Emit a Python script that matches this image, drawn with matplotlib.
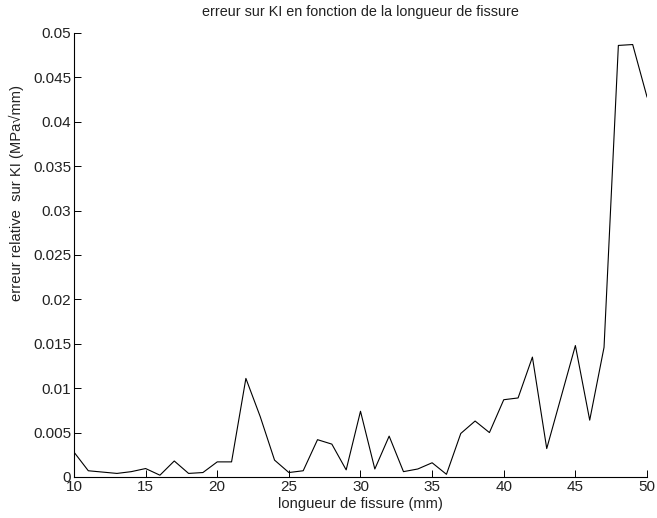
import matplotlib
matplotlib.use("Agg")
import matplotlib.pyplot as plt
import numpy as np

plt.rcParams['font.family'] = ['Liberation Sans', 'DejaVu Sans']

# longueur de fissure (mm) et erreur relative sur KI
a = np.arange(10, 51)
err = [0.0028, 0.0007, 0.00055, 0.0004, 0.0006, 0.00095, 0.0002, 0.0018, 0.0004, 0.0005,
       0.0017, 0.0017, 0.0111, 0.0068, 0.0019, 0.0005, 0.0007, 0.0042, 0.0037, 0.0008,
       0.0074, 0.0009, 0.0046, 0.0006, 0.0009, 0.0016, 0.0003, 0.0049, 0.0063, 0.0050,
       0.0087, 0.0089, 0.0135, 0.0032, 0.0090, 0.0148, 0.0064, 0.0146, 0.0486, 0.0487,
       0.0428]

xticks = [10, 15, 20, 25, 30, 35, 40, 45, 50]
yticks = np.arange(0, 0.0501, 0.005)
ylabels = ['0', '0.005', '0.01', '0.015', '0.02', '0.025', '0.03', '0.035', '0.04', '0.045', '0.05']

fig = plt.figure(figsize=(6.57, 5.18), dpi=100)
ax = fig.add_axes([0.1126, 0.0792, 0.8722, 0.8571])

ax.plot(a, err, color='k', linewidth=0.8)

ax.set_xlim(10, 50)
ax.set_ylim(0, 0.05)
ax.set_xticks(xticks)
ax.set_yticks(yticks)
ax.set_yticklabels(ylabels)
ax.tick_params(direction='in', length=5, width=0.7, labelsize=11, pad=2,
               labelcolor='#222222')

ax.spines['top'].set_visible(False)
ax.spines['right'].set_visible(False)
ax.spines['left'].set_linewidth(0.8)
ax.spines['bottom'].set_linewidth(0.8)

ax.set_title('erreur sur KI en fonction de la longueur de fissure', fontsize=10.4,
             pad=12, color='#222222')
ax.set_xlabel('longueur de fissure (mm)', fontsize=10.6, labelpad=2, color='#222222')
ax.set_ylabel('erreur relative  sur KI (MPa\u221amm)', fontsize=10.6, color='#222222')
ax.yaxis.set_label_coords(-0.088, 0.64)

fig.savefig('out.png', dpi=100)
